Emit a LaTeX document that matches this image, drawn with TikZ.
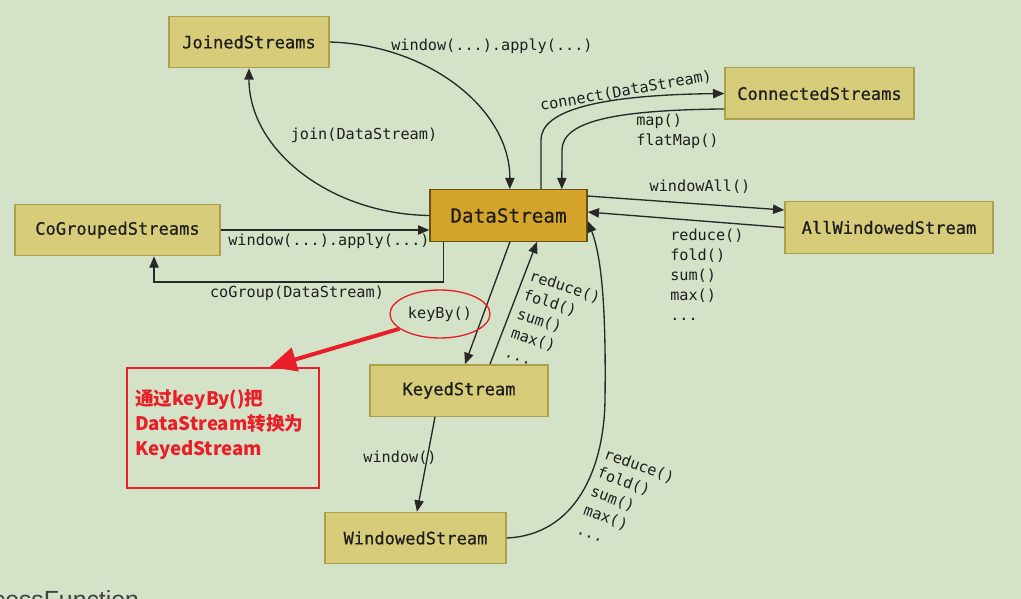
\documentclass[tikz,border=0pt]{standalone}
\usepackage{fontspec}
\setmonofont{DejaVu Sans Mono}
\setsansfont{Liberation Sans}
\newfontfamily\cjk{Noto Sans CJK SC}
\newfontfamily\boxfont{DejaVu Sans Mono}[FakeBold=0.5]
\usepackage{tikz}
\usetikzlibrary{arrows.meta,shapes.geometric}

\definecolor{bgGreen}{RGB}{212,227,200}
\definecolor{boxFill}{RGB}{214,204,122}
\definecolor{boxEdge}{RGB}{172,160,78}
\definecolor{dsFill}{RGB}{213,164,42}
\definecolor{dsEdge}{RGB}{105,78,22}
\definecolor{lineGrey}{RGB}{40,40,40}
\definecolor{textGrey}{RGB}{30,30,30}
\definecolor{noteRed}{RGB}{232,30,40}

\tikzset{
  stream/.style={draw=boxEdge, fill=boxFill, line width=1pt, minimum height=38.5pt, inner sep=0pt, text=textGrey, font=\boxfont\fontsize{12.8}{15}\selectfont},
  dsbox/.style={draw=dsEdge, fill=dsFill, font=\boxfont\fontsize{14.5}{17}\selectfont},
  conn/.style={draw=lineGrey, line width=1pt, -{Triangle[length=8.5pt,width=7pt]}},
  lbl/.style={inner sep=0pt, align=left, text=textGrey, font=\ttfamily\fontsize{11.4}{15}\selectfont},
  keyring/.style={ellipse, draw=noteRed, line width=1pt, minimum width=75pt, minimum height=36pt, inner sep=0pt, text=textGrey, font=\ttfamily\fontsize{11.4}{15}\selectfont},
  keyarrow/.style={draw=noteRed, line width=3pt, -{Triangle[length=20pt,width=18pt]}}
}

\begin{document}
\begin{tikzpicture}[x=0.75pt,y=0.75pt,yscale=-1,xscale=1]
\useasboundingbox (0,0) rectangle (1021,599);
\clip (0,0) rectangle (1021,599);
\fill[bgGreen] (0,0) rectangle (1021,599);

%Shape: Streams
\node[stream, minimum width=120pt] (joined) at (249,42) {JoinedStreams};
\node[stream, minimum width=141.75pt] (connected) at (819.5,93.5) {ConnectedStreams};
\node[stream, dsbox, minimum width=117.75pt] (ds) at (508.5,215.5) {DataStream};
\node[stream, minimum width=153.75pt] (cogrouped) at (117.5,230) {CoGroupedStreams};
\node[stream, minimum width=156pt] (allwin) at (889,227.5) {AllWindowedStream};
\node[stream, minimum width=133.5pt] (keyed) at (459,390.5) {KeyedStream};
\node[stream, minimum width=135.75pt] (windowed) at (415.5,538) {WindowedStream};

%Curves: joined <-> ds
\draw[conn] (joined.east) .. controls (430,45) and (510,110) .. ([xshift=1pt]ds.north);
\draw[conn] (ds.west) .. controls (330,214) and (249,150) .. (joined.south);
%Lines: cogrouped <-> ds
\draw[conn] (cogrouped.east) -- (cogrouped.east -| ds.west);
\draw[conn] ([xshift=-49pt]ds.south) -- ++(0,40) -| ([xshift=27.4pt]cogrouped.south);
%Curves: connected <-> ds
\draw[conn] ([xshift=24.4pt]ds.north) -- (541,140) .. controls (541,110) and (600,95) .. (connected.west);
\draw[conn] ([yshift=11.6pt]connected.west) .. controls (620,110) and (562,120) .. (562,150) -- ([xshift=40pt]ds.north);
%Lines: allwin <-> ds
\draw[conn] ([yshift=-14.6pt]ds.east) -- ([yshift=-13.1pt]allwin.west);
\draw[conn] (allwin.west) -- ([yshift=-2.6pt]ds.east);
%Lines: keyed <-> ds
\draw[conn] ([xshift=1.1pt]ds.south) -- ([xshift=4.5pt]keyed.north);
\draw[conn] ([xshift=23.25pt]keyed.north) -- ([xshift=21.4pt]ds.south);
%Lines: keyed -> windowed -> ds
\draw[conn] ([xshift=-18pt]keyed.south) -- ([xshift=1.1pt]windowed.north);
\draw[conn] (windowed.east) .. controls (575,535) and (604,470) .. (605,400) .. controls (606,320) and (603,260) .. ([yshift=4.1pt]ds.east);

% Text Node
\node[lbl] (applyTop) at (492,46) {window(...).apply(...)};
\node[lbl] (joinLbl) at (364,135) {join(DataStream)};
\node[lbl] (applyLow) at (329,241) {window(...).apply(...)};
\node[lbl] (coGroupLbl) at (297,293) {coGroup(DataStream)};
\node[lbl, rotate=10] (connectLbl) at (626,91) {connect(DataStream)};
\node[lbl, anchor=north west] (mapLbl) at (636,114) {map()\\flatMap()};
\node[lbl] (windowAllLbl) at (700,187) {windowAll()};
\node[lbl, anchor=north west] (allReduceLbl) at (670,229) {reduce()\\fold()\\sum()\\max()\\...};
\node[lbl, anchor=north west, rotate=-18] (keyedReduceLbl) at (532,269) {reduce()\\fold()\\sum()\\max()\\...};
\node[lbl, anchor=north west, rotate=-20] (winReduceLbl) at (607,447) {reduce()\\fold()\\sum()\\max()\\...};
\node[lbl] (windowLbl) at (400,458) {window()};

%Shape: keyBy note
\node[keyring] (keyby) at (440,314) {keyBy()};
\node[draw=noteRed, line width=1.5pt, minimum width=144pt, minimum height=90pt, inner sep=0pt] (note) at (223,428) {};
\node[anchor=north west, inner sep=0pt, align=left, text=noteRed, font=\cjk\bfseries\fontsize{14}{18.75}\selectfont] (noteText) at (135,389) {通过keyBy()把\\DataStream转换为\\KeyedStream};
\draw[keyarrow] (keyby.200) -- ([xshift=35pt]note.north);

% Text Node
\node[anchor=base west, inner sep=0pt, text=black!75, font=\sffamily\fontsize{18.6}{22}\selectfont] (procFn) at (-46,608) {ProcessFunction};

\end{tikzpicture}
\end{document}
